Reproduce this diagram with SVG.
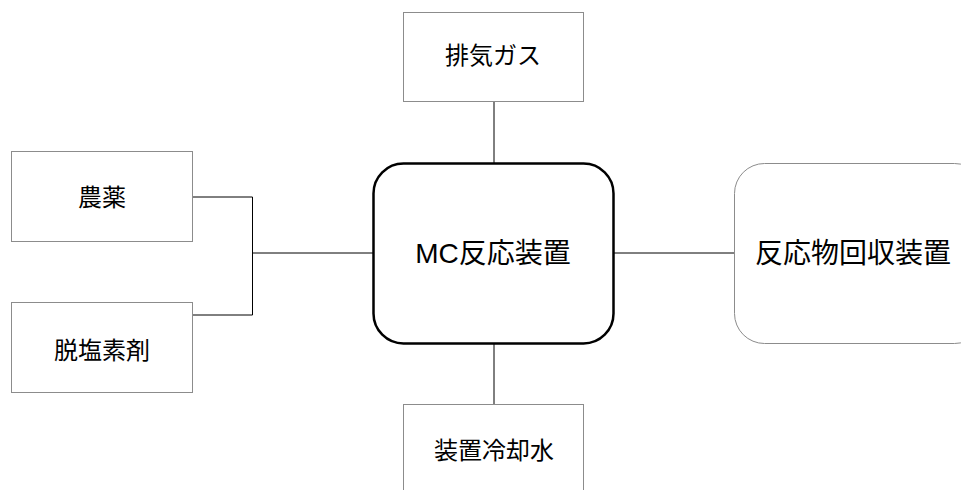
<svg xmlns="http://www.w3.org/2000/svg" width="961" height="490" viewBox="0 0 961 490">
<style>
.box{fill:#fff;stroke:#8c8c8c;stroke-width:1}
.main{fill:#fff;stroke:#000;stroke-width:2.5}
.lbl{font-family:"Liberation Sans","Noto Sans CJK JP",sans-serif;font-size:24px;fill:#000;text-anchor:middle;dominant-baseline:central}
.big{font-size:28px}
.conn{fill:none;stroke:#000;stroke-width:1}
</style>
<rect width="961" height="490" fill="#fff"/>
<g id="connectors">
<line class="conn" x1="494" y1="101" x2="494" y2="163"/>
<line class="conn" x1="494" y1="344" x2="494" y2="404"/>
<polyline class="conn" points="192,197 252.5,197 252.5,315 192,315" stroke="#444"/>
<line class="conn" x1="252.5" y1="253" x2="373" y2="253"/>
<line class="conn" x1="614" y1="253" x2="734" y2="253"/>
</g>
<g id="exhaust">
<rect class="box" x="403.5" y="12.5" width="180" height="89"/>
<text class="lbl" x="493" y="55">排気ガス</text>
</g>
<g id="pesticide">
<rect class="box" x="11.5" y="151.5" width="181" height="90"/>
<text class="lbl" x="102" y="197">農薬</text>
</g>
<g id="dechlor">
<rect class="box" x="11.5" y="302.5" width="181" height="90"/>
<text class="lbl" x="102" y="350">脱塩素剤</text>
</g>
<g id="mc">
<rect class="main" x="373.5" y="163.5" width="240" height="180" rx="30" ry="30"/>
<text class="lbl big" x="493" y="253">MC反応装置</text>
</g>
<g id="recovery">
<rect class="box" x="734.5" y="163.5" width="250" height="180" rx="30" ry="30"/>
<text class="lbl big" x="853" y="253">反応物回収装置</text>
</g>
<g id="cooling">
<rect class="box" x="403.5" y="404.5" width="180" height="100"/>
<text class="lbl" x="494" y="450">装置冷却水</text>
</g>
</svg>
